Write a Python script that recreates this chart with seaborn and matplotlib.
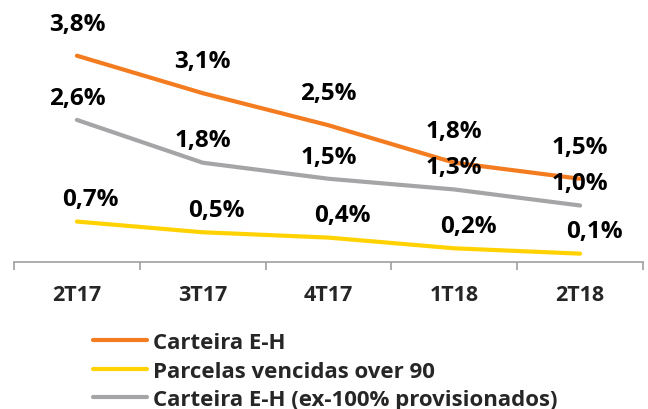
import matplotlib
matplotlib.use("Agg")
import matplotlib.pyplot as plt
import seaborn as sns
import pandas as pd
from matplotlib.ticker import FixedLocator

categories = ["2T17", "3T17", "4T17", "1T18", "2T18"]
carteira_eh = [3.8, 3.1, 2.5, 1.8, 1.5]
parcelas_over90 = [0.7, 0.5, 0.4, 0.2, 0.1]
carteira_ex100 = [2.6, 1.8, 1.5, 1.3, 1.0]
series_names = ["Carteira E-H", "Parcelas vencidas over 90", "Carteira E-H (ex-100% provisionados)"]
series_values = [carteira_eh, parcelas_over90, carteira_ex100]
colors = ["#F47C20", "#FFD200", "#A5A5A7"]

sns.set_style("white")
plt.rcParams["font.family"] = ["Open Sans", "DejaVu Sans"]
plt.rcParams["font.weight"] = "bold"

df = pd.DataFrame({
    "periodo": categories * 3,
    "valor": carteira_eh + parcelas_over90 + carteira_ex100,
    "serie": [s for s in series_names for _ in categories],
})

fig = plt.figure(figsize=(6.48, 4.10), dpi=100)
ax = fig.add_axes([14 / 648, 1 - 263 / 410, 629 / 648, 263 / 410])

sns.lineplot(data=df, x="periodo", y="valor", hue="serie", hue_order=series_names,
             palette=colors, linewidth=3, ax=ax, sort=False)

ax.set_xlim(-0.5, 4.5)
ax.set_ylim(-0.056, 4.86)

# data labels (offsets in points: dx, dy)
offsets = [(0, 23), (10, 16), (0, 16)]
for vals, (dx, dy) in zip(series_values, offsets):
    for i, v in enumerate(vals):
        ax.annotate(f"{v:.1f}%".replace(".", ","), (i, v), xytext=(dx, dy),
                    textcoords="offset points", ha="center", va="center",
                    fontsize=17.5, fontweight="bold", color="black")

for s in ["top", "right", "left"]:
    ax.spines[s].set_visible(False)
ax.spines["bottom"].set_color("#A0A0A0")
ax.spines["bottom"].set_linewidth(1.2)
ax.set_yticks([])
ax.set_xlabel("")
ax.set_ylabel("")
ax.xaxis.set_minor_locator(FixedLocator([-0.5, 0.5, 1.5, 2.5, 3.5, 4.5]))
ax.tick_params(axis="x", which="major", length=0, pad=16, labelsize=15.5)
ax.tick_params(axis="x", which="minor", length=6, width=1.2, color="#A0A0A0", direction="out", bottom=True)
for lbl in ax.get_xticklabels():
    lbl.set_fontweight("bold")

handles, labels = ax.get_legend_handles_labels()
ax.legend(handles, labels, loc="upper left", bbox_to_anchor=(93 / 648, 1 - 333 / 410),
          bbox_transform=fig.transFigure, frameon=False,
          handlelength=2.45, handletextpad=0.25, labelspacing=0.34, borderpad=0,
          borderaxespad=0, prop={"weight": "bold", "size": 16})

fig.savefig("out.png", dpi=100)
